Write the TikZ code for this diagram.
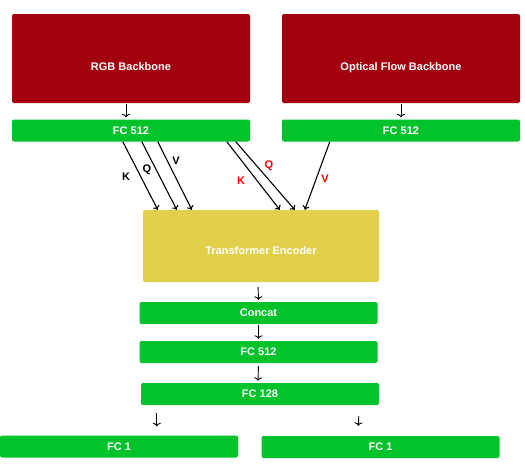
\documentclass[tikz,border=0pt]{standalone}
\usepackage{fontspec}
\setmainfont{Liberation Sans}
\usepackage{tikz}
\usetikzlibrary{arrows.meta}

\definecolor{bbred}{HTML}{A3000F}
\definecolor{fcgreen}{HTML}{00C22A}
\definecolor{teyellow}{HTML}{E2CF4A}

\begin{document}
\begin{tikzpicture}[x=1pt, y=-1pt,
  blk/.style={draw=none, rounded corners=2pt, text=white, font=\fontsize{11}{13}\selectfont\bfseries, inner sep=0pt},
  backbone/.style={blk, fill=bbred, minimum width=238pt, minimum height=89pt, text height=23pt, text depth=0pt},
  fc/.style={blk, fill=fcgreen, minimum width=238pt, minimum height=22pt},
  encoder/.style={blk, fill=teyellow, minimum width=236pt, minimum height=72pt, text height=16pt, text depth=0pt},
  arr/.style={-{To[length=4pt,width=7pt]}, line width=1.1pt},
  shortarr/.style={-{To[length=3.5pt,width=8pt]}, line width=0.9pt},
  lbl/.style={font=\fontsize{11}{13}\selectfont\bfseries}]

\useasboundingbox (0,0) rectangle (525,464);

\node[backbone] (rgb) at (131,58.5) {RGB Backbone};
\node[backbone] (flow) at (401,58.5) {Optical Flow Backbone};
\node[fc] (fcrgb) at (131,130.5) {FC 512};
\node[fc] (fcflow) at (401,130.5) {FC 512};
\node[encoder] (te) at (261,246) {Transformer Encoder};
\node[fc] (concat) at (258.5,313) {Concat};
\node[fc] (fcmid) at (258.5,352) {FC 512};
\node[fc] (fc128) at (260,394) {FC 128};
\node[fc] (outa) at (119,446.5) {FC 1};
\node[fc] (outb) at (380.5,447) {FC 1};

\draw[shortarr, shorten <=1pt, shorten >=2pt] ([xshift=-5pt]rgb.south) -- ([xshift=-5pt]fcrgb.north);
\draw[shortarr, shorten <=1pt, shorten >=2pt] (flow.south) -- (fcflow.north);

% K Q V from the RGB stream
\draw[arr] ([xshift=111pt]fcrgb.south west) -- ([xshift=15pt]te.north west);
\draw[arr] ([xshift=130pt]fcrgb.south west) -- ([xshift=34pt]te.north west);
\draw[arr] ([xshift=146pt]fcrgb.south west) -- ([xshift=49pt]te.north west);
\node[lbl] (k1) at (126,177) {K};
\node[lbl] (q1) at (147,170) {Q};
\node[lbl] (v1) at (176,161) {V};

% K Q from RGB, V from the flow stream
\draw[arr] ([xshift=215pt]fcrgb.south west) -- ([xshift=137pt]te.north west);
\draw[arr] ([xshift=224pt]fcrgb.south west) -- ([xshift=152pt]te.north west);
\draw[arr] ([xshift=48pt]fcflow.south west) -- ([xshift=162pt]te.north west);
\node[lbl, text=red] (k2) at (241,181) {K};
\node[lbl, text=red] (q2) at (269,166) {Q};
\node[lbl, text=red] (v2) at (325,179) {V};

\draw[shortarr, shorten <=5pt, shorten >=2pt] ([xshift=-3pt]te.south) -- (concat.north);
\draw[shortarr, shorten <=1pt, shorten >=2pt] (concat.south) -- (fcmid.north);
\draw[shortarr, shorten <=3pt, shorten >=2pt] (fcmid.south) -- ([xshift=-2pt]fc128.north);
\draw[shortarr] ([xshift=16pt,yshift=-8pt]fc128.south west) -- ([xshift=157pt,yshift=9pt]outa.north west);
\draw[shortarr] ([xshift=218pt,yshift=-11pt]fc128.south west) -- ([xshift=97pt,yshift=10pt]outb.north west);
\end{tikzpicture}
\end{document}
